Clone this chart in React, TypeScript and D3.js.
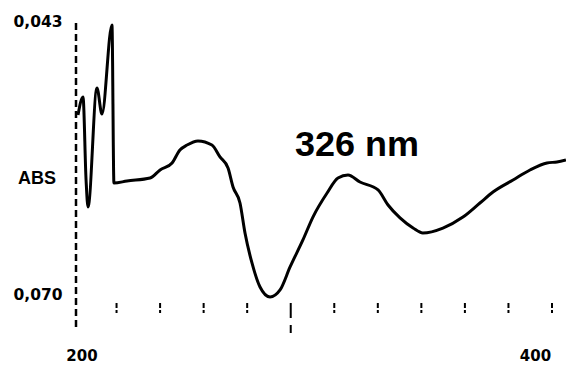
import React, { useEffect, useRef } from 'react';
import * as d3 from 'd3';

// wavelength (nm) and absorbance
const wavelengths = [
  202.3, 204.6, 206.0, 206.9, 211.0, 213.3, 217.9, 218.8, 224.8, 235.4,
  240.0, 245.5, 249.1, 252.4, 257.4, 263.8, 267.5, 271.2, 273.5, 276.7,
  279.0, 282.2, 285.9, 290.5, 295.1, 299.7, 305.6, 310.2, 316.7, 321.7,
  326.3, 331.8, 340.1, 344.7, 350.2, 356.2, 360.7, 369.9, 379.1, 386.9,
  392.9, 402.1, 409.9, 417.7, 422.3, 426.4,
];
const absorbance = [
  0.05213, 0.05036, 0.05851, 0.06117, 0.04948, 0.05203, 0.04329, 0.05881, 0.05861, 0.05832,
  0.05753, 0.05684, 0.05557, 0.05508, 0.05468, 0.05508, 0.05625, 0.05734, 0.0592, 0.06077,
  0.06372, 0.06666, 0.06902, 0.07, 0.06931, 0.06705, 0.0644, 0.06215, 0.05979, 0.05832,
  0.05802, 0.05871, 0.05949, 0.06097, 0.06224, 0.06323, 0.06372, 0.06323, 0.06215, 0.06077,
  0.05969, 0.05851, 0.05753, 0.05684, 0.05674, 0.05655,
];
const xTicks = [220, 240, 260, 280, 300, 320, 340, 360, 380, 400, 420];
const xLabels = ['200', '400'];
const yLabels = ['0,043', 'ABS', '0,070'];
const peakLabel = '326 nm';

const App = () => {
  const svgRef = useRef<SVGSVGElement>(null);

  useEffect(() => {
    const width = 566;
    const height = 365;
    svgRef.current!.innerHTML = '';

    const svg = d3.select(svgRef.current)
      .attr('width', width)
      .attr('height', height);

    const x = d3.scaleLinear().domain([200, 420]).range([73, 552]);
    const y = d3.scaleLinear().domain([0.043, 0.07]).range([22, 297]);

    // left axis, drawn broken like the scan
    svg.append('line')
      .attr('x1', 76).attr('x2', 76)
      .attr('y1', 23).attr('y2', 328)
      .attr('stroke', '#000')
      .attr('stroke-width', 2.5)
      .attr('stroke-dasharray', '7,4');

    // bottom ticks
    svg.selectAll('.tick')
      .data(xTicks)
      .enter()
      .append('line')
      .attr('x1', d => x(d)).attr('x2', d => x(d))
      .attr('y1', 303)
      .attr('y2', d => (d === 300 ? 333 : 313))
      .attr('stroke', '#000')
      .attr('stroke-width', 2)
      .attr('stroke-dasharray', d => (d === 300 ? '15,7' : '5,2'));

    const numFont = '"DejaVu Sans", sans-serif';

    // x labels
    const labelX = [x(200) + 9, x(400) + 27];
    svg.selectAll('.xl')
      .data(xLabels)
      .enter()
      .append('text')
      .attr('x', (d, i) => labelX[i])
      .attr('y', 361)
      .attr('text-anchor', 'middle')
      .attr('font-family', numFont)
      .attr('font-weight', 'bold')
      .attr('font-size', 15)
      .text(d => d);

    // y labels
    const labelY = [27, 184, 300];
    svg.selectAll('.yl')
      .data(yLabels)
      .enter()
      .append('text')
      .attr('x', d => (d === 'ABS' ? 37 : 38))
      .attr('y', (d, i) => labelY[i])
      .attr('text-anchor', 'middle')
      .attr('font-family', d => (d === 'ABS' ? '"Liberation Sans", Arial, sans-serif' : numFont))
      .attr('font-weight', 'bold')
      .attr('font-size', d => (d === 'ABS' ? 18 : 15.5))
      .text(d => d);

    // spectrum
    const line = d3.line<number>()
      .x((d, i) => x(wavelengths[i]))
      .y(d => y(d))
      .curve(d3.curveMonotoneX);

    svg.append('path')
      .datum(absorbance)
      .attr('d', line)
      .attr('fill', 'none')
      .attr('stroke', '#000')
      .attr('stroke-width', 3)
      .attr('stroke-linejoin', 'round');

    svg.append('text')
      .attr('x', 357)
      .attr('y', 156)
      .attr('text-anchor', 'middle')
      .attr('font-family', '"Liberation Sans", Arial, sans-serif')
      .attr('font-weight', 'bold')
      .attr('font-size', 35)
      .attr('textLength', 124)
      .attr('lengthAdjust', 'spacingAndGlyphs')
      .text(peakLabel);
  }, []);

  return (
    <svg ref={svgRef} style={{ position: 'absolute', left: 0, top: 0, background: '#fff' }}></svg>
  );
};

export default App;
